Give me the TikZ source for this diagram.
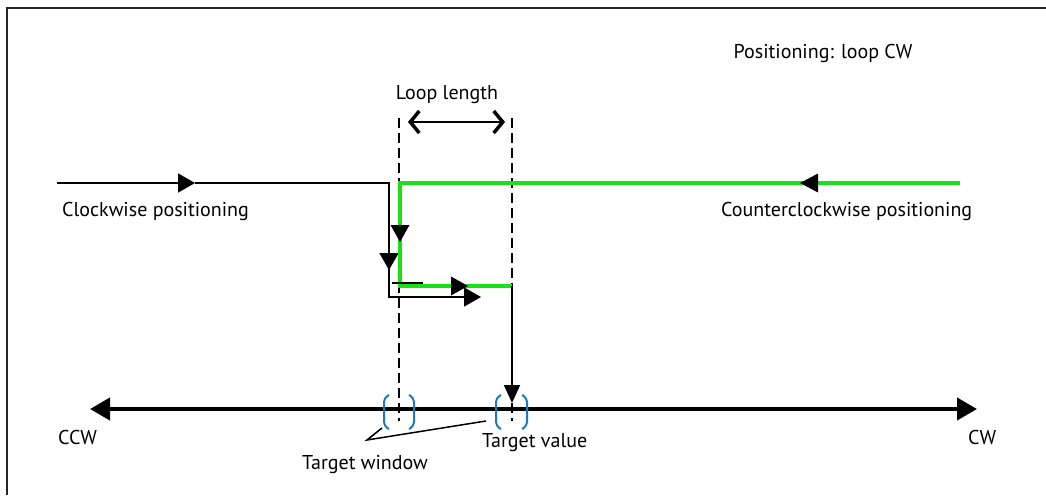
\documentclass[tikz,border=0pt]{standalone}
\usepackage{fontspec}
\setmainfont{PT Sans}
\usetikzlibrary{arrows.meta}
\definecolor{lgreen}{RGB}{25,225,25}
\definecolor{bblue}{RGB}{30,120,200}
\tikzset{
  lbl/.style={font=\fontsize{20}{23}\selectfont, inner sep=0pt},
  thinln/.style={line width=1.8pt, black},
  greenln/.style={line width=4.8pt, lgreen},
  dashln/.style={line width=2pt, dash pattern=on 10pt off 5pt},
  tri/.style={-{Triangle[length=17pt,width=19pt]}},
  brk/.style={line width=2pt, bblue, rounded corners=4pt},
}
\begin{document}
\begin{tikzpicture}[x=1pt,y=-1pt]
\useasboundingbox (0,0) rectangle (1046,495);
% frame
\draw[line width=1.5pt, black!85] (7,495) -- (7,8) -- (1046,8);
% coordinates
\coordinate (cwS) at (57,183);
\coordinate (cwA) at (195,183);
\coordinate (cwC1) at (389,183);
\coordinate (cwB) at (389,270);
\coordinate (cwC2) at (389,297);
\coordinate (cwE) at (481,297);
\coordinate (gS) at (960,183);
\coordinate (gA) at (800,183);
\coordinate (gC1) at (400,183);
\coordinate (gB) at (400,242);
\coordinate (gC2) at (400,286);
\coordinate (gD) at (468,286);
\coordinate (gE) at (512,286);
\coordinate (tv) at (512,403);
\coordinate (dL1) at (399,118);
\coordinate (dL2) at (399,421);
\coordinate (dR1) at (512,118);
\coordinate (dR2) at (512,421);
\coordinate (axL) at (90,409);
\coordinate (axR) at (977,409);
\coordinate (llL) at (408,122);
\coordinate (llR) at (505,122);
\coordinate (fragA) at (392,283);
\coordinate (fragB) at (423,283);
\coordinate (ldr) at (367,440);
\coordinate (ldrA) at (382,428);
\coordinate (ldrB) at (486,421);
% dashed lines
\draw[dashln] (dL1) -- (dL2);
\draw[dashln] (dR1) -- (dR2);
% loop length
\draw[line width=1.6pt, {Straight Barb[length=9pt,width=22pt,line width=3.5pt]}-{Straight Barb[length=9pt,width=22pt,line width=3.5pt]}] (llL) -- (llR);
\node[lbl] (loopl) at (447,95) {Loop length};
% clockwise black path
\draw[thinln, tri] (cwS) -- (cwA);
\draw[thinln] (cwA) -- (cwC1) -- (cwB);
\draw[thinln, tri] (cwC1) -- (cwB);
\draw[thinln, tri] (cwB) -- (cwC2) -- (cwE);
% green path
\draw[greenln] (gS) -- (gC1) -- (gC2) -- (gE);
\draw[thinln] (fragA) -- (fragB);
\fill[black] (gA) -- ++(18,-9.5) -- ++(0,19) -- cycle;
\fill[black] (gB) -- ++(-9.5,-17) -- ++(19,0) -- cycle;
\fill[black] (gD) -- ++(-17,-9.5) -- ++(0,19) -- cycle;
% target value arrow
\draw[thinln, -{Triangle[length=18pt,width=16pt]}] (gE) -- (tv);
% axis
\draw[line width=4pt, {Triangle[length=20pt,width=22pt]}-{Triangle[length=20pt,width=22pt]}] (axL) -- (axR);
% brackets
\draw[brk] (389,395) -- (384,398) -- (384,426) -- (389,429);
\draw[brk] (409,395) -- (414,398) -- (414,426) -- (409,429);
\draw[brk] (501,395) -- (496,398) -- (496,426) -- (501,429);
\draw[brk] (522,395) -- (527,398) -- (527,426) -- (522,429);
% leaders
\draw[line width=1.5pt] (ldrA) -- (ldr) -- (ldrB);
% labels
\node[lbl] (title) at (823,54) {Positioning: loop CW};
\node[lbl, anchor=west] (cwl) at (62,211) {Clockwise positioning};
\node[lbl, anchor=west] (ccwl) at (721,211) {Counterclockwise positioning};
\node[lbl, anchor=west] (ccw) at (58,437) {CCW};
\node[lbl, anchor=west] (cw) at (968,437) {CW};
\node[lbl, anchor=west] (tvl) at (482,443) {Target value};
\node[lbl] (twl) at (365,465) {Target window};
\end{tikzpicture}
\end{document}
